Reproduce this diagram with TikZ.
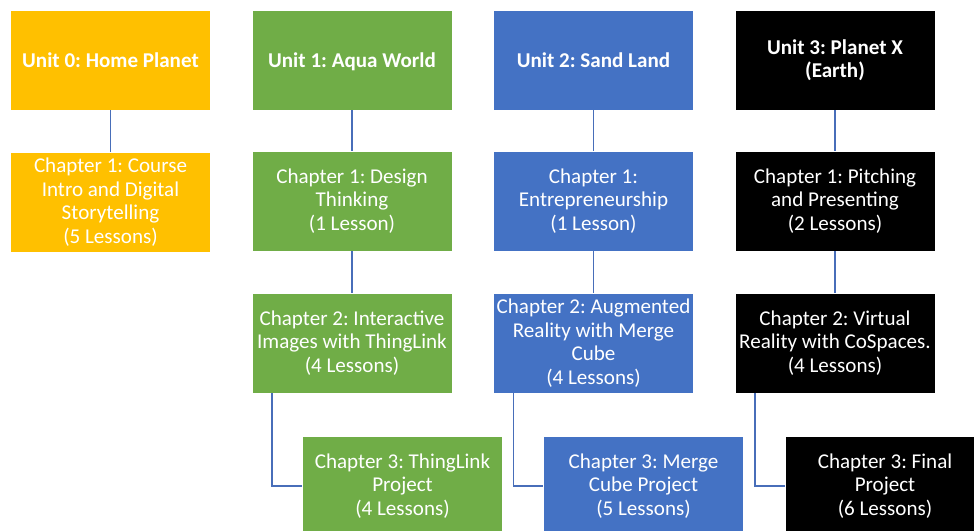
\documentclass[tikz,border=0pt]{standalone}
\usepackage{fontspec}
\setmainfont{Carlito}
\frenchspacing
\definecolor{uyellow}{RGB}{255,192,0}
\definecolor{ugreen}{RGB}{112,173,71}
\definecolor{ublue}{RGB}{68,114,196}
\definecolor{ublack}{RGB}{0,0,0}
\definecolor{conn}{RGB}{72,110,185}
\begin{document}
\begin{tikzpicture}[x=0.75pt,y=-0.75pt,
  box/.style={minimum width=150pt,minimum height=75pt,inner sep=0pt,align=center,
    text=white,font=\fontsize{15.8}{17.6}\selectfont\frenchspacing,draw=white,line width=0.3pt},
  unitbox/.style={box,font=\fontsize{15.8}{17.6}\selectfont\bfseries\frenchspacing},
  oneline/.style={text depth=0pt},
  link/.style={draw=conn,line width=1.1pt}]
\useasboundingbox (0,0) rectangle (974,531);
\fill[white] (0,0) rectangle (974,531);
% Unit 0
\node[unitbox,oneline,fill=uyellow] (u0) at (110.5,60) {Unit 0: Home Planet};
\node[box,fill=uyellow] (c01) at (110.5,202) {Chapter 1: Course\\Intro and Digital\\Storytelling\\(5 Lessons)};
% Unit 1
\node[unitbox,oneline,fill=ugreen] (u1) at (352,60) {Unit 1: Aqua World};
\node[box,fill=ugreen] (g1) at (352,201) {Chapter 1: Design\\Thinking\\(1 Lesson)};
\node[box,fill=ugreen] (g2) at (352,343) {Chapter 2: Interactive\\Images with ThingLink\\(4 Lessons)};
\node[box,fill=ugreen] (g3) at (402.5,486) {Chapter 3: ThingLink\\Project\\(4 Lessons)};
% Unit 2
\node[unitbox,oneline,fill=ublue] (u2) at (593.5,60) {Unit 2: Sand Land};
\node[box,fill=ublue] (b1) at (593.5,201) {Chapter 1:\\Entrepreneurship\\(1 Lesson)};
\node[box,fill=ublue] (b2) at (593.5,343) {Chapter 2: Augmented\\Reality with Merge\\Cube\\(4 Lessons)};
\node[box,fill=ublue] (b3) at (643.5,486) {Chapter 3: Merge\\Cube Project\\(5 Lessons)};
% Unit 3
\node[unitbox,fill=ublack] (u3) at (835,60) {Unit 3: Planet X\\(Earth)};
\node[box,fill=ublack] (k1) at (835,201) {Chapter 1: Pitching\\and Presenting\\(2 Lessons)};
\node[box,fill=ublack] (k2) at (835,343) {Chapter 2: Virtual\\Reality with CoSpaces.\\(4 Lessons)};
\node[box,fill=ublack] (k3) at (885,486) {Chapter 3: Final\\Project\\(6 Lessons)};
% connectors
\draw[link] (u0) -- (c01);
\draw[link] (u1) -- (g1);
\draw[link] (g1) -- (g2);
\draw[link] ([xshift=15pt]g2.south west) |- (g3.west);
\draw[link] (u2) -- (b1);
\draw[link] (b1) -- (b2);
\draw[link] ([xshift=15pt]b2.south west) |- (b3.west);
\draw[link] (u3) -- (k1);
\draw[link] (k1) -- (k2);
\draw[link] ([xshift=15pt]k2.south west) |- (k3.west);
\end{tikzpicture}
\end{document}
